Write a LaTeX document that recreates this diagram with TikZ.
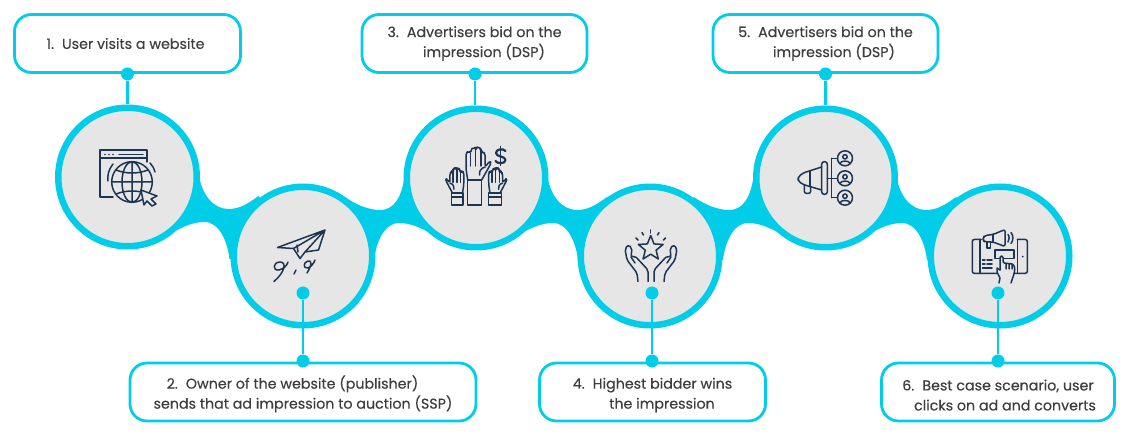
\documentclass[tikz,border=0pt]{standalone}
\usepackage{fontspec}
\setmainfont{Poppins}[FakeBold=0.25]
\usetikzlibrary{shapes.geometric}
\definecolor{ringcyan}{RGB}{2,205,232}
\definecolor{discgray}{RGB}{230,230,230}
\definecolor{iconblue}{RGB}{30,52,80}
\definecolor{labelgray}{RGB}{62,62,62}
\tikzset{
  disc/.style={circle, draw=ringcyan, fill=discgray, line width=6.5pt, minimum size=138.5pt, inner sep=0pt},
  labelbox/.style={draw=ringcyan, fill=white, line width=2.8pt, rounded corners=17pt, align=center,
    minimum height=58pt, inner sep=0pt, text=labelgray, font=\fontsize{14.25}{20}\selectfont},
  pindot/.style={circle, fill=ringcyan, minimum size=13pt, inner sep=0pt},
  pinline/.style={draw=ringcyan, line width=2.8pt},
  iconline/.style={draw=iconblue, line width=1.5pt, line join=round, line cap=round},
  openhand/.pic={
    \draw[iconline, rounded corners=1.8pt] (-7,0) -- (-8.7,-11) -- (-8.7,-27) -- (-6.5,-29) -- (-4,-27) -- (-3.8,-30) -- (-1.5,-33) -- (1,-31)
      -- (1.5,-32) -- (4,-33.5) -- (6,-31) -- (6.3,-28) -- (8.5,-28) -- (10.5,-26) -- (10.5,-13) -- (15,-19) -- (16.5,-17) -- (7,0);
    \draw[iconline] (-4,-27) -- (-4,-14) (1,-31) -- (1,-14) (6.2,-31) -- (6.2,-14);
    \draw[iconline] (10.5,-13) .. controls (6,-12) and (4,-8) .. (5,-5);
  }
}
\begin{document}
\begin{tikzpicture}[x=1pt, y=-1pt]
  \useasboundingbox (0,0) rectangle (1128,438);
  % bands between the discs
  \foreach \ux/\uy/\s/\off in {127.5/177/1/0, 476/178/-1/-5, 476/178/1/0, 825/178/-1/-5, 825/178/1/0} {
    \begin{scope}[shift={(\ux,\uy)}, xscale=\s]
      \fill[ringcyan] (0,0) -- (71,-4) .. controls (74,18) and (86+\off,32) .. (101+\off,32) .. controls (112+\off,32) and (120,27) .. (131,19)
        -- (175,78) -- (102,82) .. controls (100,65) and (92,45) .. (77,45) .. controls (65,45) and (55,50) .. (44,56) -- cycle;
    \end{scope}
  }
  \foreach \name/\x/\y in {1/127.5/177, 2/303/256, 3/476/178, 4/650/256, 5/825.5/178, 6/1000/256}
    \node[disc] (circ\name) at (\x,\y) {};
  % labels
  \node[labelbox, minimum width=226pt] (box1) at (127.5,43.5) {1.\hspace{8pt}User visits a website\hspace{4pt}\mbox{}};
  \node[labelbox, minimum width=346pt] (box2) at (303,392) {\rule{0pt}{17pt}2.\hspace{8pt}Owner of the website (publisher)\hspace{21pt}\mbox{}\\ sends that ad impression to auction (SSP)};
  \node[labelbox, minimum width=225pt] (box3) at (474.5,43.5) {3.\hspace{8pt}Advertisers bid on the\\ \hspace*{19pt}impression (DSP)};
  \node[labelbox, minimum width=226pt] (box4) at (652.5,392) {\rule{0pt}{17pt}4.\hspace{8pt}Highest bidder wins\\ \hspace*{19pt}the impression};
  \node[labelbox, minimum width=225pt] (box5) at (825.5,43.5) {5.\hspace{8pt}Advertisers bid on the\\ \hspace*{17pt}impression (DSP)};
  \node[labelbox, minimum width=233pt] (box6) at (998,392) {\rule{0pt}{17pt}6.\hspace{8pt}Best case scenario, user\\ \hspace*{14pt}clicks on ad and converts};
  % pins
  \foreach \name/\x in {1/127.5, 3/475, 5/825.5} {
    \node[pindot] (pin\name) at (\x,74) {};
    \draw[pinline] (pin\name) -- (pin\name |- circ\name.north);
  }
  \foreach \name/\x in {2/303, 4/652, 6/998} {
    \node[pindot] (pin\name) at (\x,361) {};
    \node[pindot] (pinin\name) at (\x,293) {};
    \draw[pinline] (pinin\name) -- (pin\name);
  }
  % globe in a window
  \draw[iconline] (113,197) -- (100,197) -- (100,150) -- (147,150) -- (147,162) (100,158) -- (147,158) (119,154.5) -- (143,154.5);
  \foreach \x in {105,109,113} \fill[iconblue] (\x,154.5) circle (0.9);
  \draw[iconline, fill=discgray] (132,182) circle (20.3);
  \draw[iconline] (132,182) ellipse (10 and 20.3) (132,162) -- (132,202) (112,182) -- (152,182);
  \draw[iconline] (116,170) .. controls (126,174) and (138,174) .. (148,170) (116,194) .. controls (126,190) and (138,190) .. (148,194);
  \draw[iconline] (108,181) .. controls (107,175) and (109,169) .. (113,164) (150,163) .. controls (152,165) and (154,168) .. (155,172);
  \draw[iconline, fill=discgray] (141,190) -- (157,196) -- (151,199) -- (156,204) -- (152,206) -- (147,201) -- (144,205) -- cycle;
  % paper plane
  \draw[iconline] (277.5,247.5) -- (325,230) -- (318.5,250) -- (305,252) (277.5,247.5) -- (293.5,248.5) -- (325,230) -- (305,252) -- (300,258.5) -- (293.5,248.5);
  \draw[iconline] (297,245) -- (298,252);
  \draw[iconline] (274,281.5) .. controls (285,272) and (287,262) .. (280,262) .. controls (273,262) and (272,271) .. (279,270) .. controls (283,269) and (287,266) .. (288,262);
  \draw[iconline] (294,274) -- (296,270);
  \draw[iconline] (307,273) .. controls (312,265) and (312,260) .. (308,261) .. controls (303,262) and (303,269) .. (308,268) .. controls (311,267) and (314,263) .. (315,260);
  % raised hands and dollar
  \pic at (474.7,180) {openhand};
  \pic[xscale=-0.72, yscale=0.76] at (457.5,193) {openhand};
  \pic[xscale=0.72, yscale=0.76] at (495,193) {openhand};
  \draw[iconline] (467.7,180) rectangle (481.7,205) (451.7,193) rectangle (463,205) (488.5,193) rectangle (501.5,205);
  \draw[iconline] (451.7,197) -- (463,197) (488.5,197) -- (501.5,197);
  \draw[iconline, line width=2.2pt] (505.5,151) .. controls (503,148) and (496,149) .. (496,153) .. controls (496,157) and (505.5,156) .. (505.5,160) .. controls (505.5,164) and (497,164) .. (495.5,161);
  \draw[iconline] (500.7,146.5) -- (500.7,165.5);
  % star over two hands
  \node[star, star points=5, star point ratio=2.3, draw=iconblue, line width=1.5pt, line join=round, minimum size=26pt, inner sep=0pt] (star4) at (650.7,248.5) {};
  \foreach \xa/\ya/\xb/\yb in {636/238/638/240, 642/232.5/643.5/235, 650.7/230/650.7/233, 659/232.5/657.5/235, 665.5/238/663.5/240}
    \draw[iconline] (\xa,\ya) -- (\xb,\yb);
  \foreach \s in {1,-1} {
    \begin{scope}[shift={(651,0)}, xscale=\s]
      \draw[iconline, rounded corners=2pt] (-13,281.5) -- (-14,273) -- (-24,260) -- (-26,249) -- (-23,245) -- (-19,248) -- (-20,257) -- (-16,256) -- (-3,270) -- (-3,281.5);
      \draw[iconline] (-20,257) -- (-16,263);
    \end{scope}
  }
  % megaphone with three people
  \draw[iconline, rounded corners=2.5pt] (821.7,161.7) rectangle (827.3,194.3);
  \draw[iconline, rounded corners=3pt] (821.7,167) -- (803,173) -- (798,177) -- (798,181) -- (803,184.5) -- (821.7,190);
  \draw[iconline] (810,171) -- (810,186);
  \draw[iconline, rounded corners=2pt] (804.3,185) -- (804.3,193.3) -- (810.7,193.3) -- (810.7,186);
  \draw[iconline] (827.3,178.3) -- (837.5,178.3) (831.7,158.3) -- (831.7,197.7) (831.7,158.3) -- (837.5,158.3) (831.7,197.7) -- (837.5,197.7);
  \foreach \yy in {158.3,178.3,197.7} {
    \draw[iconline] (845,\yy) circle (7.5) (845,\yy-1.5) circle (2.2);
    \draw[iconline] (840,\yy+5) .. controls (841,\yy+2) and (849,\yy+2) .. (850,\yy+5);
  }
  % hand on a phone with megaphone
  \draw[iconline, rounded corners=2pt] (981,239.5) -- (972.3,239.5) -- (972.3,273.3) -- (997,273.3);
  \draw[iconline, rounded corners=2pt] (1017.3,239.5) -- (1027.3,239.5) -- (1027.3,273.3) -- (1014,273.3);
  \draw[iconline] (980,239.5) -- (980,273.3) (1017.3,239.5) -- (1017.3,273.3);
  \fill[iconblue] (1022.7,256.7) circle (1);
  \draw[iconline] (982.5,260) -- (985,260) (987,260) -- (992,260) (982.5,264) -- (985,264) (987,264) -- (992,264) (982.5,268) -- (992,268);
  \draw[iconline] (995,250) rectangle (1014,258.3);
  \draw[iconline, fill=discgray, rounded corners=1.5pt] (1000,270) -- (1000,256) -- (1003,256) -- (1003,263) -- (1013,264) -- (1015,268) -- (1014,274) -- (1011,283);
  \draw[iconline] (1000,270) -- (997,268) -- (997,272) -- (1000,278) -- (999,283) (1006,263.5) -- (1006,269) (1009,264) -- (1009,269) (1012,264) -- (1012,269);
  \draw[iconline, rounded corners=2pt] (1005,229.5) -- (993,234.5) -- (985,235.5) -- (983,237.5) -- (983,240.5) -- (985,242) -- (993,242) -- (1005,246.5) -- cycle;
  \draw[iconline] (993,234.5) -- (993,242) (987,242) -- (987,248) -- (990.5,248) -- (990.5,242);
  \draw[iconline] (1008,234.5) .. controls (1009.5,236) and (1009.5,240) .. (1008,242) (1011,232.5) .. controls (1013.5,235) and (1013.5,241) .. (1011,243.5);
\end{tikzpicture}
\end{document}
